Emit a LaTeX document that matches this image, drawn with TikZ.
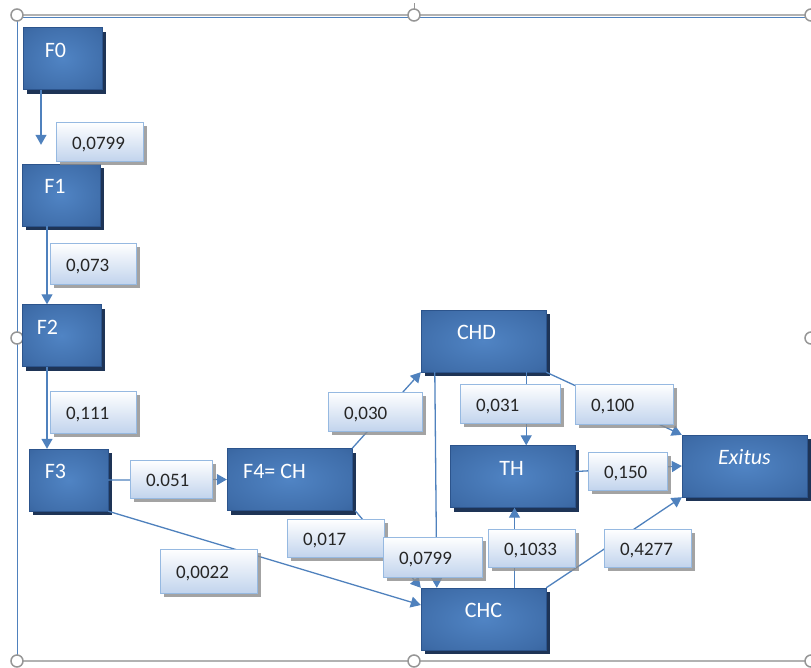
\documentclass[tikz,border=0pt]{standalone}
\usepackage{fontspec}
\setmainfont{Carlito}
\usepackage{xcolor}
\usepackage{tikz}
\usetikzlibrary{shadows}
\usetikzlibrary{positioning}
\usetikzlibrary{arrows.meta,shapes}
\usetikzlibrary{calc}
\definecolor{boxblue}{RGB}{80,132,196}
\definecolor{boxmid}{RGB}{62,108,168}
\definecolor{boxdark}{RGB}{44,84,140}
\definecolor{boxshadow}{RGB}{30,52,86}
\definecolor{linkblue}{RGB}{79,129,189}
\definecolor{tagbottom}{RGB}{194,212,237}
\definecolor{tagborder}{RGB}{150,185,225}
\definecolor{handlegray}{RGB}{150,150,150}
\pgfdeclareradialshading{boxshade}{\pgfpoint{0bp}{0bp}}{color(0bp)=(boxblue); color(30bp)=(boxmid); color(50bp)=(boxdark)}
\tikzstyle{block}=[rectangle,draw=boxdark,shading=boxshade,text=white,font=\fontsize{22}{24}\selectfont,minimum height=62pt,text height=14pt,text depth=17pt,drop shadow={shadow xshift=4pt,shadow yshift=-4pt,fill=boxshadow,opacity=1}]
\tikzstyle{tag}=[rectangle,draw=tagborder,top color=white,bottom color=tagbottom,text=black!85,font=\fontsize{19}{21}\selectfont,align=left,inner xsep=16pt,inner ysep=0pt,text height=15pt,text depth=0pt,drop shadow={shadow xshift=4pt,shadow yshift=-4pt,fill=black!45,opacity=.8}]
\tikzstyle{link} = [draw,line width=1.3pt,linkblue,-{Triangle[length=10pt,width=11pt]}]
\tikzset{handle/.style={draw=handlegray,line width=1.5pt,fill=white}}

\begin{document}
\begin{tikzpicture}[x=1pt,y=-1pt]
\useasboundingbox (0,0) rectangle (811,667);

 %frame
 \draw[gray!60, line width=1.5pt] (17,15) -- (811,15);
 \draw[linkblue, line width=1pt] (17,17) -- (811,17);
 \draw[linkblue, line width=1.2pt] (17.5,15) -- (17.5,661);
 \draw[gray!60, line width=1.5pt] (17,661) -- (811,661);
 \draw[handlegray, line width=1pt] (414,3) -- (414,9);
 \foreach \x/\y in {17/15, 414/15, 811/15, 17/338, 811/338, 17/661, 414/661, 811/661}
   \draw[handle] (\x,\y) circle (6pt);

 %states
 \foreach \x/\y/\name/\label/\w/\k in {62.5/58.5/F0/F0/79/14, 61/195/F1/F1/78/12, 61.5/335.5/F2/F2/79/28, 68.5/480/F3/F3/79/26, 289.5/479.5/F4/{F4= CH}/125/30}
   \node[block, minimum width=\w pt] (\name) at (\x,\y) {\label\kern\k pt};

 \foreach \x/\y/\name/\label/\w/\k in {483.5/341/CHD/CHD/125/14, 512.5/476.5/TH/TH/125/2, 744.5/466/Exitus/{\textit{Exitus}}/125/0, 483.5/619/CHC/CHC/125/0}
   \node[block, minimum width=\w pt] (\name) at (\x,\y) {\label\kern\k pt};

 %transitions
 \draw[link, shorten >=19pt] ([xshift=-21.5pt]F0.south) -- ([xshift=-21.5pt]F0.south |- F1.north);
 \draw[link] ([xshift=-14pt]F1.south) -- ([xshift=-14pt]F1.south |- F2.north);
 \draw[link] ([xshift=-14.5pt]F2.south) -- ([xshift=-14.5pt]F2.south |- F3.north);
 \draw[link] (F3.east) -- (F4.west);
 \draw[link] (F3.south east) -- ([yshift=14pt]CHC.west);
 \draw[link] (F4.north east) -- (CHD.south west);
 \draw[link] ([xshift=3pt]F4.south east) -- (CHC.north west);
 \draw[link] ([xshift=14pt]CHD.south west) -- ([xshift=16pt]CHC.north west);
 \draw[link] ([xshift=-20pt]CHD.south east) -- ([xshift=-20pt]CHD.south east |- TH.north);
 \draw[link] (CHD.south east) -- (Exitus.north west);
 \draw[link] ([yshift=5pt]TH.east) -- (Exitus.west);
 \draw[link] ([xshift=2pt]TH.south |- CHC.north) -- ([xshift=2pt]TH.south);
 \draw[link] (CHC.north east) -- (Exitus.south west);

 %probabilities
 \foreach \x/\y/\name/\label/\w/\h [evaluate=\w as \tw using \w-32] in {99.5/141.5/pF0/{0,0799}/87/39, 93/263.5/pF1/{0,073}/86/41, 93/412/pF2/{0,111}/86/42, 171/479/pF3F4/{0.051}/82/38, 208.5/571/pF3CHC/{0,0022}/97/44}
   \node[tag, text width=\tw pt, minimum height=\h pt] (\name) at (\x,\y) {\label};

 \foreach \x/\y/\name/\label/\w/\h [evaluate=\w as \tw using \w-32] in {375/411.5/pF4CHD/{0,030}/94/39, 510/403.5/pCHDTH/{0,031}/100/39, 624/404/pCHDEx/{0,100}/98/40, 627.5/471/pTHEx/{0,150}/79/38}
   \node[tag, text width=\tw pt, minimum height=\h pt] (\name) at (\x,\y) {\label};

 \foreach \x/\y/\name/\label/\w/\h [evaluate=\w as \tw using \w-32] in {335.5/538/pF4CHC/{0,017}/97/38, 432.5/557/pCHDCHC/{0,0799}/99/40, 531.5/548/pCHCTH/{0,1033}/87/38, 647.5/548/pCHCEx/{0,4277}/87/38}
   \node[tag, text width=\tw pt, minimum height=\h pt] (\name) at (\x,\y) {\label};

\end{tikzpicture}
\end{document}
